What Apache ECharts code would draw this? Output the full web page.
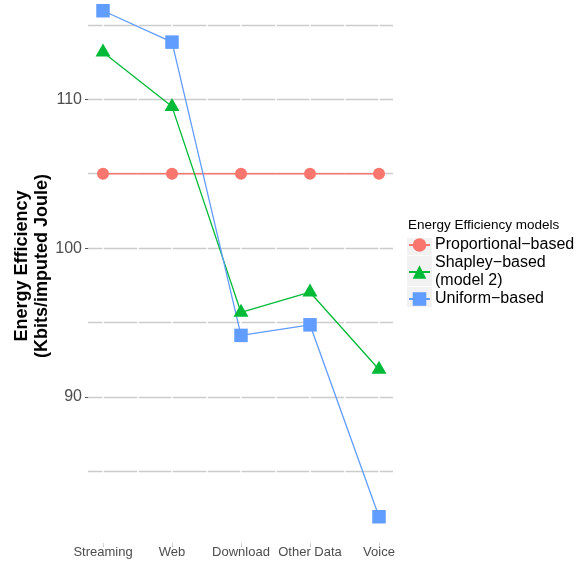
<!DOCTYPE html>
<html><head><meta charset="utf-8">
<script src="https://cdn.jsdelivr.net/npm/echarts@6/dist/echarts.min.js"></script>
<style>html,body{margin:0;padding:0;background:#fff}#c{width:583px;height:567px}</style>
</head><body><div id="c"></div>
<script>
const categories = ['Streaming', 'Web', 'Download', 'Other Data', 'Voice'];
const proportional = [105, 105, 105, 105, 105];
const shapley = [113.16, 109.51, 95.68, 97.04, 91.85];
const uniform = [115.95, 113.84, 94.14, 94.85, 81.96];
const yTickLabels = [90, 100, 110];
const seriesNames = ['Proportional−based', 'Shapley−based (model 2)', 'Uniform−based'];
const legendTitle = 'Energy Efficiency models';
const yTitle = 'Energy Efficiency\n(Kbits/imputed Joule)';

const FONT = 'Liberation Sans, Arial, sans-serif';
const Y_MIN = 80, Y_MAX = 116.67;
const chart = echarts.init(document.getElementById('c'), null, {renderer: 'canvas'});
chart.setOption({
  animation: false,
  backgroundColor: '#ffffff',
  textStyle: {fontFamily: FONT},
  grid: [
    {left: 88, top: 0, width: 305, height: 545.9},
    {left: 103, top: 0, width: 276, height: 545.9}
  ],
  xAxis: [
    {gridIndex: 0, type: 'value', min: 0, max: 1, show: false},
    {gridIndex: 1, type: 'category', data: categories, boundaryGap: false, position: 'bottom', offset: -3,
      axisLine: {show: false},
      axisTick: {show: true, length: 3.5, lineStyle: {color: '#555', width: 1}},
      axisLabel: {interval: 0, margin: 3, fontSize: 13, color: '#4d4d4d', fontFamily: FONT},
      splitLine: {show: false}},
    {gridIndex: 1, type: 'value', position: 'top', min: 0, max: 8, interval: 1, z: 1,
      axisLine: {show: false}, axisTick: {show: false}, axisLabel: {show: false},
      splitLine: {show: true, lineStyle: {color: '#ffffff', width: 1.5}}}
  ],
  yAxis: [
    {gridIndex: 0, type: 'value', min: Y_MIN, max: Y_MAX, interval: 5,
      axisLine: {show: false}, axisTick: {show: false}, axisLabel: {show: false},
      splitLine: {show: true, showMinLine: false, showMaxLine: false, lineStyle: {color: '#cccccc', width: 1.3}}},
    {gridIndex: 0, type: 'value', min: Y_MIN, max: Y_MAX, position: 'left',
      axisLine: {show: false},
      axisTick: {show: true, customValues: yTickLabels, length: 3, lineStyle: {color: '#555', width: 1}},
      axisLabel: {customValues: yTickLabels, margin: 6, fontSize: 16, color: '#4d4d4d', fontFamily: FONT},
      splitLine: {show: false}},
    {gridIndex: 1, type: 'value', min: Y_MIN, max: Y_MAX, show: false}
  ],
  legend: {
    orient: 'vertical', left: 408, top: 236, padding: 0, itemGap: 0,
    itemWidth: 21, itemHeight: 17,
    textStyle: {fontSize: 16, lineHeight: 18, color: '#000', fontFamily: FONT},
    formatter: n => n.replace(' (', '\n('),
    data: seriesNames
  },
  graphic: [
    {type: 'rect', z: 0, shape: {x: 407, y: 238, width: 25, height: 17}, style: {fill: '#f2f2f2'}},
    {type: 'rect', z: 0, shape: {x: 407, y: 256, width: 25, height: 30}, style: {fill: '#f2f2f2'}},
    {type: 'rect', z: 0, shape: {x: 407, y: 287, width: 25, height: 20}, style: {fill: '#f2f2f2'}},
    {type: 'text', z: 5, x: 408, y: 225, style: {text: legendTitle, fontSize: 13.5, fontFamily: FONT, fill: '#000', textAlign: 'left', textVerticalAlign: 'middle'}},
    {type: 'text', z: 5, x: 32, y: 266, rotation: Math.PI / 2,
      style: {text: yTitle, fontSize: 18, fontWeight: 'bold', lineHeight: 20, fontFamily: FONT, fill: '#000', textAlign: 'center', textVerticalAlign: 'middle'}}
  ],
  series: [
    {name: seriesNames[0], type: 'line', xAxisIndex: 1, yAxisIndex: 2, data: proportional,
      symbol: 'circle', symbolSize: 12, color: '#F8766D',
      lineStyle: {width: 1.3, color: '#F8766D'}, itemStyle: {color: '#F8766D'}},
    {name: seriesNames[1], type: 'line', xAxisIndex: 1, yAxisIndex: 2, data: shapley,
      symbol: 'triangle', symbolSize: [15, 13], symbolOffset: [0, -2.2], color: '#00BA38',
      lineStyle: {width: 1.3, color: '#00BA38'}, itemStyle: {color: '#00BA38'}},
    {name: seriesNames[2], type: 'line', xAxisIndex: 1, yAxisIndex: 2, data: uniform,
      symbol: 'rect', symbolSize: 13.5, color: '#619CFF',
      lineStyle: {width: 1.3, color: '#619CFF'}, itemStyle: {color: '#619CFF'}}
  ]
});
</script>
</body></html>
